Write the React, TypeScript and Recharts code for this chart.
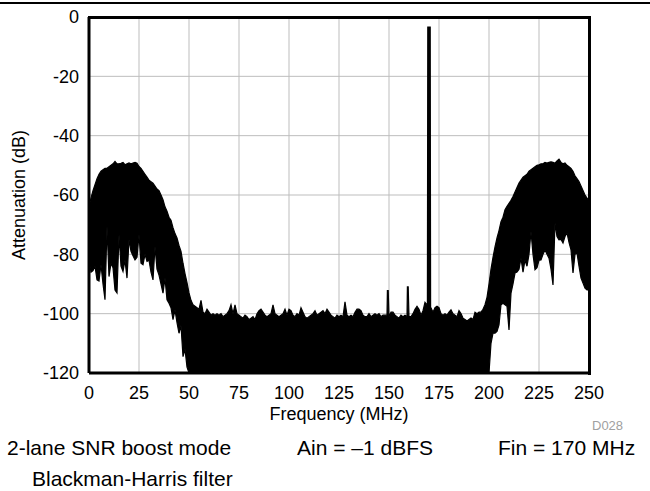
import React from 'react'
import { ComposedChart, Area, XAxis, YAxis, CartesianGrid, Label } from 'recharts'

// frequency ticks (MHz) and attenuation ticks (dB)
const X_TICKS = [0, 25, 50, 75, 100, 125, 150, 175, 200, 225, 250]
const Y_TICKS = [-120, -100, -80, -60, -40, -20, 0]

// upper edge of the trace, one value per MHz bin (0..250)
const HI = [
  -64, -61, -58.5, -56.5, -54.5, -53, -52, -51.5, -51, -51,
  -50.5, -50, -49.5, -48.7, -49.5, -49.5, -49.3, -49, -49.8, -49.5,
  -49.2, -49.5, -49.2, -49, -49.3, -50.4, -51, -52, -53, -54,
  -55, -55.5, -56, -57, -58, -58.5, -60, -61.6, -64, -65.5,
  -67.5, -68.5, -71, -73, -74.5, -77, -79, -83, -86.5, -89.5,
  -93, -95.5, -97, -97.5, -98, -98.5, -95.5, -99.5, -100, -98.5,
  -99.5, -100.5, -100, -100.5, -100, -100.5, -100, -101, -100.5, -100,
  -99, -97, -100, -97, -100, -100.5, -101, -101.5, -100.5, -101,
  -102, -101.5, -101, -102, -100, -99, -98.5, -99.5, -100.5, -101,
  -100.5, -100, -97, -100, -100.5, -101, -100.5, -100, -98.5, -100.5,
  -98.5, -99, -100.5, -101, -100, -100.5, -98, -99.5, -101, -101.5,
  -101, -100.5, -100, -99, -100.5, -100, -99.5, -99, -100, -98.5,
  -99.5, -100.5, -101, -101.5, -100.5, -101, -100.5, -101, -96, -100.5,
  -101, -100.5, -101, -99.5, -98.5, -98.5, -99, -100.5, -101, -101,
  -100, -101, -100.5, -100, -100.5, -100, -101, -100.5, -100.5, -100.5,
  -101, -99.5, -99.5, -100.5, -101, -101.5, -100.5, -101, -100.5, -101,
  -101, -101, -100, -98.5, -97.5, -98.5, -100.5, -99, -96.2, -97,
  -3.4, -98, -99.5, -98, -97.5, -98, -100, -100.5, -100, -100.5,
  -99.5, -98.7, -100, -100.5, -101, -99, -100, -101.5, -102, -102.5,
  -102, -101.5, -102, -99.5, -100, -99.5, -99.5, -98.5, -97, -94.5,
  -90, -85, -81, -77.5, -74.5, -72, -69, -67.5, -65, -63.8,
  -62.8, -61.8, -60.5, -59, -57.5, -56, -55, -54, -53.5, -53,
  -52, -51.5, -51, -50.5, -50, -49.8, -49.5, -49.5, -49, -49.2,
  -49, -48.8, -49, -49.3, -48.5, -47.9, -49, -49.5, -49.2, -50,
  -50.5, -51, -52, -53.5, -54.5, -55.5, -57, -58.5, -60, -61, -62,
]

// lower edge of the left image band, 0..49 MHz
const LEFT_LO = [
  -82, -86, -85.5, -84, -88.6, -89, -83.5, -90, -95.3, -70.6,
  -87.5, -83, -84.5, -92, -93, -73.4, -84, -85.8, -82, -88,
  -75, -79, -80.5, -81.9, -81, -73.4, -83, -83.5, -80, -82.4,
  -82, -86, -88.6, -77.4, -85, -87, -90, -93.1, -88, -95.3,
  -96.5, -98, -102, -98.7, -103, -106.6, -104, -114.5, -112, -118,
]

// lower edge of the right image band, 201..250 MHz
const RIGHT_LO = [
  -110, -106.6, -106.6, -106, -103.8, -97, -96.5, -97, -97.5, -105.5,
  -93.1, -90, -86.3, -86, -85, -81.3, -86, -82, -84, -80,
  -72.3, -80, -85.2, -84.5, -82, -81.9, -80, -78.5, -80, -81.3,
  -85, -90.3, -69.5, -74, -75.1, -75, -76.2, -74, -72.8, -76,
  -78.5, -86.3, -80, -79.6, -84, -88, -89.7, -91.4, -92, -92,
]

const FLOOR_LO = -120

// narrow spurs and the 170 MHz tone edges
const SPURS = [
  { f: 149.2, hi: -92.2 },
  { f: 149.6, hi: -92.2 },
  { f: 159.2, hi: -91 },
  { f: 159.6, hi: -91 },
  { f: 169.2, hi: -97 },
  { f: 169.4, hi: -3.4 },
  { f: 170.6, hi: -3.4 },
  { f: 170.8, hi: -98 },
]

const data = [
  ...HI.map((hi, f) => {
    const lo = f < 50 ? LEFT_LO[f] : f > 200 ? RIGHT_LO[f - 201] : FLOOR_LO
    return { f, band: [lo, hi] }
  }),
  ...SPURS.map((s) => ({ f: s.f, band: [FLOOR_LO, s.hi] })),
].sort((a, b) => a.f - b.f)

const FONT = '"Liberation Sans", Arial, sans-serif'
const tickStyle = { fontSize: 18, fill: '#000', fontFamily: FONT }
const frame = { stroke: '#000', strokeWidth: 3 }

const note: React.CSSProperties = {
  position: 'absolute',
  fontFamily: FONT,
  fontSize: 21,
  lineHeight: '21px',
  color: '#000',
  whiteSpace: 'nowrap',
}

export default function App() {
  return (
    <div style={{ position: 'absolute', left: 0, top: 0, width: 650, height: 491, background: '#fff' }}>
      <div style={{ position: 'absolute', left: 0, top: 2, width: 650, height: 2, background: '#000' }} />
      <div style={{ position: 'absolute', left: 0, top: 0, width: 650, height: 491, zIndex: 1 }}>
        <ComposedChart
          width={650}
          height={491}
          data={data}
          margin={{ top: 17, right: 61, bottom: 71, left: 0 }}
        >
          <CartesianGrid stroke="#bdbdbd" strokeWidth={1} />
          <Area
            type="linear"
            dataKey="band"
            stroke="#000"
            strokeWidth={1.2}
            fill="#000"
            fillOpacity={1}
            dot={false}
            activeDot={false}
            isAnimationActive={false}
          />
          <XAxis
            type="number"
            dataKey="f"
            domain={[0, 250]}
            ticks={X_TICKS}
            interval={0}
            height={47}
            axisLine={frame}
            tickLine={false}
            tickSize={0}
            tickMargin={13}
            tick={tickStyle}
          >
            <Label
              value="Frequency (MHz)"
              position="insideBottom"
              offset={0}
              style={{ fontSize: 18, fill: '#000', fontFamily: FONT }}
            />
          </XAxis>
          <YAxis
            type="number"
            domain={[-120, 0]}
            ticks={Y_TICKS}
            interval={0}
            width={89}
            axisLine={frame}
            tickLine={false}
            tickSize={0}
            tickMargin={10}
            tick={tickStyle}
          >
            <Label
              value="Attenuation (dB)"
              angle={-90}
              position="insideLeft"
              offset={19}
              style={{ fontSize: 18, fill: '#000', fontFamily: FONT, textAnchor: 'middle' }}
            />
          </YAxis>
        </ComposedChart>
      </div>
      {/* top and right edges of the plot frame, above the chart layer */}
      <div style={{ position: 'absolute', zIndex: 5, left: 88, top: 16, width: 503, height: 3, backgroundColor: 'black' }} />
      <div style={{ position: 'absolute', zIndex: 5, left: 588, top: 16, width: 3, height: 359, backgroundColor: 'black' }} />
      <div style={{ ...note, zIndex: 5, left: 592, top: 419, fontSize: 13, lineHeight: '13px', color: '#a0a0a0' }}>D028</div>
      <div style={{ ...note, zIndex: 5, left: 7, top: 437 }}>2-lane SNR boost mode</div>
      <div style={{ ...note, zIndex: 5, left: 297, top: 437 }}>Ain = –1 dBFS</div>
      <div style={{ ...note, zIndex: 5, left: 498, top: 437 }}>Fin = 170 MHz</div>
      <div style={{ ...note, zIndex: 5, left: 32, top: 468 }}>Blackman-Harris filter</div>
    </div>
  )
}
